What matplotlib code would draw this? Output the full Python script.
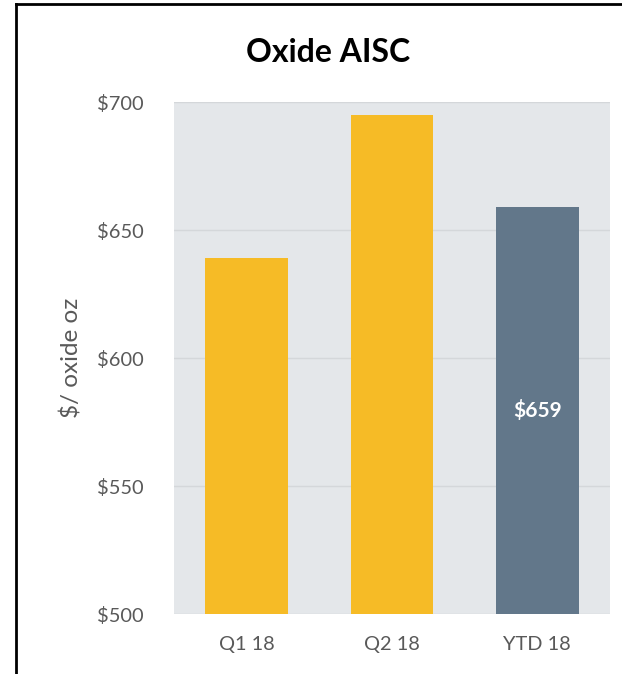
import matplotlib.pyplot as plt
from matplotlib.lines import Line2D

categories = ['Q1 18', 'Q2 18', 'YTD 18']
values = [639, 695, 659]
colors = ['#F6BB26', '#F6BB26', '#62778A']
yticks = [500, 550, 600, 650, 700]
ytick_labels = ['$500', '$550', '$600', '$650', '$700']

plt.rcParams['font.family'] = ['Lato', 'DejaVu Sans']

fig = plt.figure(figsize=(6.22, 6.74), dpi=100)
ax = fig.add_axes([174/622, 1 - 614/674, 436/622, 512/674])
ax.set_facecolor('#E4E7EA')

x = range(len(categories))
bars = ax.bar(x, [v - 500 for v in values], bottom=500, width=0.57, color=colors, zorder=3)
ax.set_xlim(-0.5, 2.5)
ax.set_ylim(500, 700)
ax.set_yticks(yticks)
ax.set_yticklabels(ytick_labels)
ax.set_xticks(list(x))
ax.set_xticklabels(categories)
ax.tick_params(length=0, labelsize=14.4, colors='#595959')
ax.tick_params(axis='y', pad=22)
ax.tick_params(axis='x', pad=16)
ax.grid(axis='y', color='#D4D7DA', linewidth=1, zorder=1)
for s in ax.spines.values():
    s.set_visible(False)
ax.set_ylabel('$/ oxide oz', fontsize=17.5, color='#595959', labelpad=10)

# label inside the YTD bar
ax.text(2, (500 + values[2]) / 2, '$' + str(values[2]), ha='center', va='center',
        color='white', fontsize=15, fontweight='bold', zorder=4)

fig.text(328/622, 1 - 52/674, 'Oxide AISC', ha='center', va='center',
         fontsize=23, fontweight='bold', color='black')

# frame lines on top and left
fig.add_artist(Line2D([16/622, 1], [1 - 4/674, 1 - 4/674], color='black', linewidth=2, transform=fig.transFigure))
fig.add_artist(Line2D([16/622, 16/622], [0, 1 - 4/674], color='black', linewidth=2, transform=fig.transFigure))

fig.savefig('out.png', dpi=100)
